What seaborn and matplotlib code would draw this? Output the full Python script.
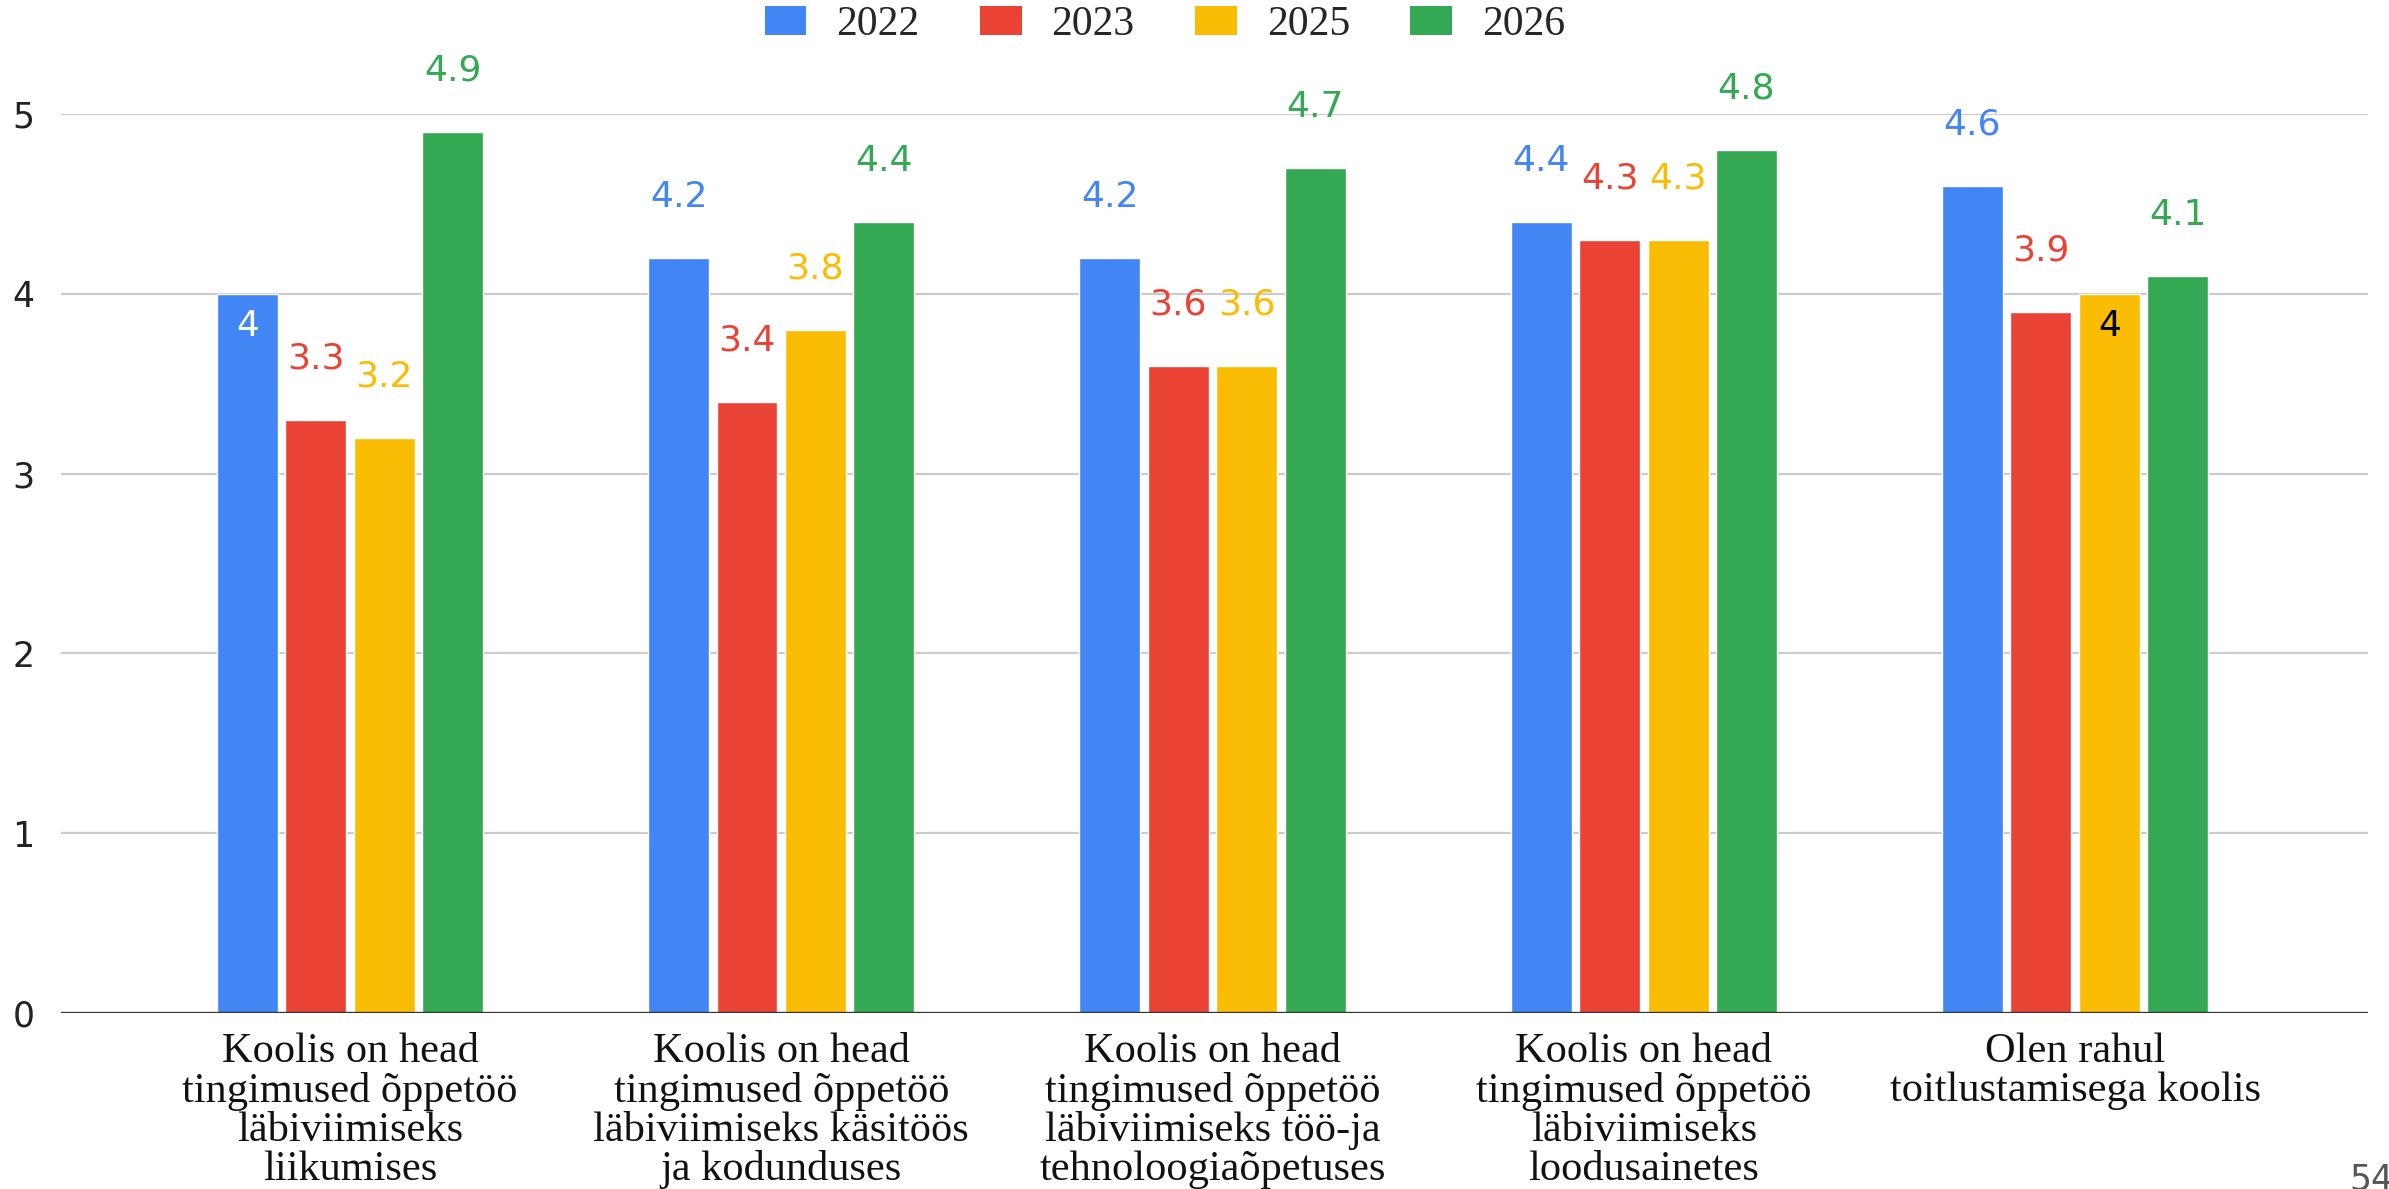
import matplotlib
matplotlib.use("Agg")
import matplotlib.pyplot as plt
from matplotlib.patches import Patch
import seaborn as sns
import pandas as pd

categories = [
    "Koolis on head\ntingimused õppetöö\nläbiviimiseks\nliikumises",
    "Koolis on head\ntingimused õppetöö\nläbiviimiseks käsitöös\nja kodunduses",
    "Koolis on head\ntingimused õppetöö\nläbiviimiseks töö-ja\ntehnoloogiaõpetuses",
    "Koolis on head\ntingimused õppetöö\nläbiviimiseks\nloodusainetes",
    "Olen rahul\ntoitlustamisega koolis",
]
years = ["2022", "2023", "2025", "2026"]
values_2022 = [4.0, 4.2, 4.2, 4.4, 4.6]
values_2023 = [3.3, 3.4, 3.6, 4.3, 3.9]
values_2025 = [3.2, 3.8, 3.6, 4.3, 4.0]
values_2026 = [4.9, 4.4, 4.7, 4.8, 4.1]
yticks = [0, 1, 2, 3, 4, 5]
page_number = "54"

colors = ["#4285F4", "#EA4335", "#FBBC04", "#34A853"]

series = [values_2022, values_2023, values_2025, values_2026]
rows = []
for yr, vals in zip(years, series):
    for c, v in zip(categories, vals):
        rows.append({"category": c, "year": yr, "value": v})
df = pd.DataFrame(rows)

sns.set_theme(style="white")
plt.rcParams["font.family"] = ["DejaVu Sans"]

W, H = 2389, 1189
fig = plt.figure(figsize=(W / 100, H / 100), dpi=100)
ax = fig.add_axes([61 / W, 1 - 1013 / H, (2368 - 61) / W, (1013 - 114) / H])

sns.barplot(data=df, x="category", y="value", hue="year", hue_order=years,
            order=categories, palette=colors, width=0.635, gap=0.11,
            saturation=1, legend=False, errorbar=None, ax=ax, zorder=3)

ax.set_xlim(-0.670, 4.679)
ax.set_ylim(0, 5)
ax.set_yticks(yticks)
ax.set_yticklabels([str(t) for t in yticks])
for t in yticks[1:]:
    ax.axhline(t, color="#cccccc", lw=1.6, zorder=1)
ax.axhline(0, color="#333333", lw=2.4, zorder=4)
for s in ax.spines.values():
    s.set_visible(False)
ax.set_xlabel("")
ax.set_ylabel("")
ax.tick_params(axis="y", length=0, pad=19, labelsize=25, labelcolor="#222222")
ax.tick_params(axis="x", length=0, pad=14)
for lab in ax.get_xticklabels():
    lab.set_fontfamily("Liberation Serif")
    lab.set_fontsize(30.5)
    lab.set_linespacing(1.02)
    lab.set_color("#111111")

# value labels
inside = {(0, 0): "white", (4, 2): "black"}
n_cat = len(categories)
bars = [p for p in ax.patches if p.get_height() > 0]
for hi, (yr, vals) in enumerate(zip(years, series)):
    for ci, v in enumerate(vals):
        bar = bars[hi * n_cat + ci]
        xc = bar.get_x() + bar.get_width() / 2
        txt = f"{v:g}"
        if (ci, hi) in inside:
            ax.text(xc, v - 0.18, txt, ha="center", va="center", fontsize=26,
                    color=inside[(ci, hi)], zorder=5)
        else:
            ax.text(xc, v + 0.34, txt, ha="center", va="center", fontsize=26,
                    color=colors[hi], clip_on=False, zorder=5)

handles = [Patch(facecolor=c, edgecolor="none") for c in colors]
fig.legend(handles, years, loc="center", bbox_to_anchor=(1165 / W, 1 - 25 / H),
           ncol=4, frameon=False, prop={"family": "Liberation Serif", "size": 30},
           handlelength=1.0, handleheight=0.7, handletextpad=0.72,
           columnspacing=1.45, borderpad=0, borderaxespad=0)

fig.text(2349 / W, 1 - 1163 / H, page_number, ha="left", va="top",
         fontsize=25, color="#555555")

fig.savefig("out.png", dpi=100, facecolor="white")
